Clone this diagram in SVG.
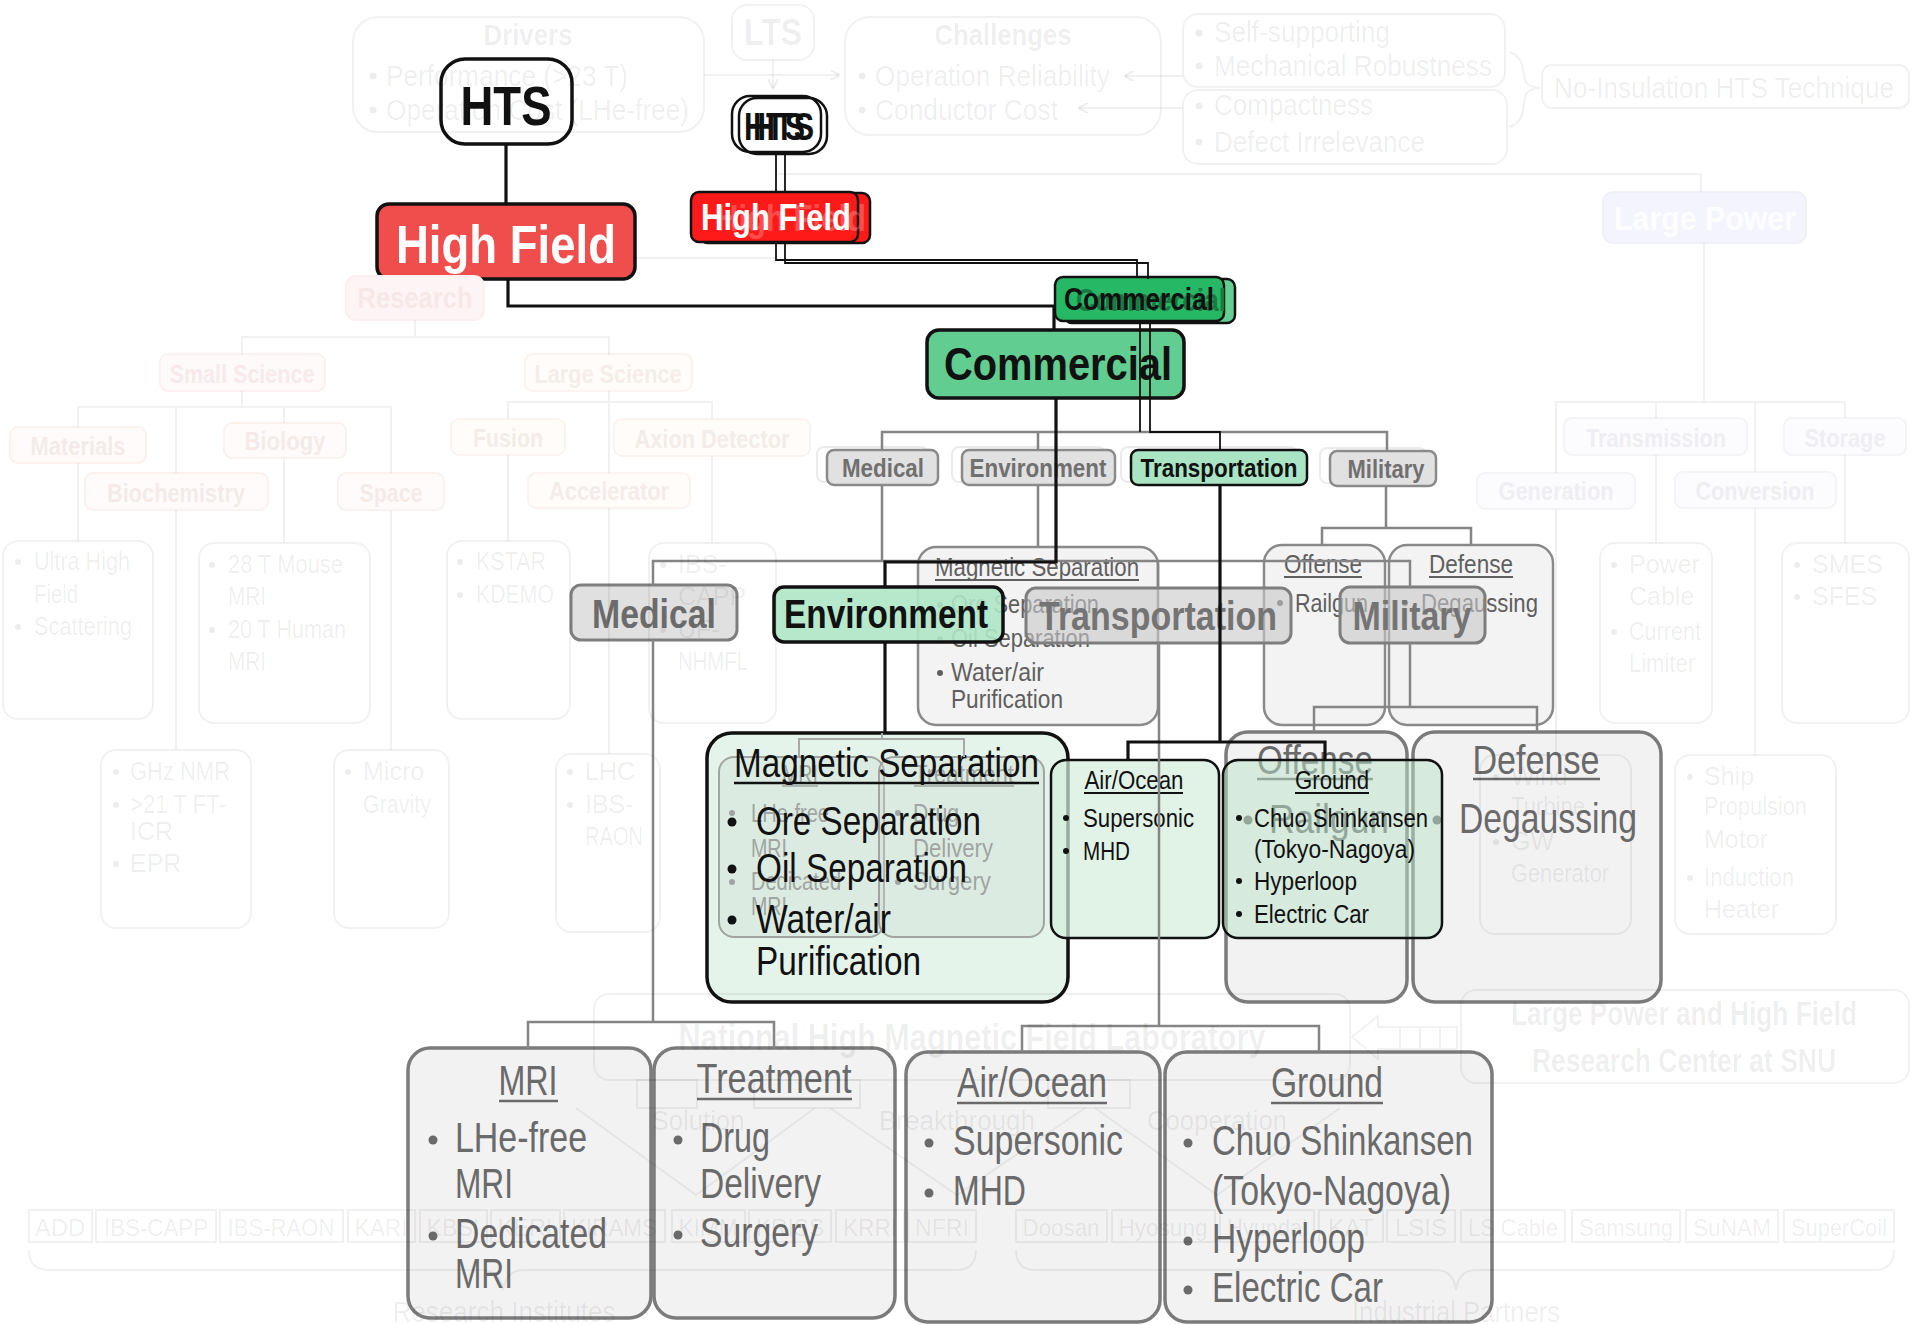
<svg xmlns="http://www.w3.org/2000/svg" width="1920" height="1325" viewBox="0 0 1920 1325">
<defs>
<style>
text{font-family:"Liberation Sans",Arial,sans-serif}
.b{font-weight:bold}
.bgbox{fill:none;stroke:#000;stroke-opacity:.055;stroke-width:2}
.bgt{fill:#000;fill-opacity:.07}
.bgl{fill:none;stroke:#000;stroke-opacity:.055;stroke-width:2}
.bgc{fill:#000;fill-opacity:.07}
.gl{fill:none;stroke:#858585;stroke-width:2.5}
.gll{fill:none;stroke:#a8a8a8;stroke-width:2}
.kl{fill:none;stroke:#111;stroke-width:3.2}
.kt{fill:none;stroke:#111;stroke-width:1.8}
.gbig{fill:#f2f2f2;stroke:#7b7b7b;stroke-width:3.5}
.gtxt{fill:#6a6a6a}
.gmed{fill:#f2f2f2;fill-opacity:.92;stroke:#8a8a8a;stroke-width:2.5}
.mtxt{fill:#5f5f5f}
.gsm{fill:#e1e1e1;stroke:#8a8a8a;stroke-width:2.5}
.ghost{fill:none;stroke:#000;stroke-opacity:.08;stroke-width:2}
.k{fill:#111}
</style>
<marker id="bga" markerWidth="10" markerHeight="10" refX="9" refY="5" orient="auto" markerUnits="userSpaceOnUse">
<path d="M0,0 L10,5 L0,10" fill="none" stroke="#000" stroke-opacity=".07" stroke-width="2"/>
</marker>
</defs>
<rect width="1920" height="1325" fill="#ffffff"/>

<!-- ================= gray nodes ================= -->
<g id="ghost-small-row">
<rect x="817" y="447" width="111" height="35" rx="7" class="ghost"/>
<rect x="952" y="447" width="153" height="35" rx="7" class="ghost"/>
<rect x="1121" y="447" width="176" height="35" rx="7" class="ghost"/>
<rect x="1320" y="448" width="106" height="35" rx="7" class="ghost"/>
</g>
<g id="node-medical-small">
<rect x="827" y="450" width="111" height="35" rx="7" class="gsm"/>
<text x="883" y="477" text-anchor="middle" class="b" fill="#707070" font-size="26" textLength="82" lengthAdjust="spacingAndGlyphs">Medical</text>
</g>
<g id="node-environment-small">
<rect x="962" y="450" width="153" height="35" rx="7" class="gsm"/>
<text x="1038" y="477" text-anchor="middle" class="b" fill="#707070" font-size="26" textLength="137" lengthAdjust="spacingAndGlyphs">Environment</text>
</g>
<g id="node-transportation-small">
<rect x="1131" y="450" width="176" height="35" rx="7" fill="#a9e5c4" stroke="#111" stroke-width="2.5"/>
<text x="1219" y="477" text-anchor="middle" class="b k" font-size="26" textLength="157" lengthAdjust="spacingAndGlyphs">Transportation</text>
</g>
<g id="node-military-small">
<rect x="1330" y="451" width="106" height="35" rx="7" class="gsm"/>
<text x="1386" y="478" text-anchor="middle" class="b" fill="#707070" font-size="26" textLength="77" lengthAdjust="spacingAndGlyphs">Military</text>
</g>

<g id="node-magsep-medium">
<rect x="918" y="547" width="240" height="178" rx="18" class="gmed"/>
<text x="935" y="576" class="mtxt" font-size="25" textLength="204" lengthAdjust="spacingAndGlyphs">Magnetic Separation</text>
<line x1="935" y1="580" x2="1139" y2="580" stroke="#5f5f5f" stroke-width="1.8"/>
<circle cx="940" cy="605" r="3" fill="#5f5f5f"/><circle cx="940" cy="639" r="3" fill="#5f5f5f"/><circle cx="940" cy="673" r="3" fill="#5f5f5f"/>
<text x="951" y="613" class="mtxt" font-size="25" textLength="148" lengthAdjust="spacingAndGlyphs">Ore Separation</text>
<text x="951" y="647" class="mtxt" font-size="25" textLength="139" lengthAdjust="spacingAndGlyphs">Oil Separation</text>
<text x="951" y="681" class="mtxt" font-size="25" textLength="93" lengthAdjust="spacingAndGlyphs">Water/air</text>
<text x="951" y="708" class="mtxt" font-size="25" textLength="112" lengthAdjust="spacingAndGlyphs">Purification</text>
</g>
<g id="node-offense-medium">
<rect x="1264" y="545" width="121" height="180" rx="18" class="gmed"/>
<text x="1323" y="573" text-anchor="middle" class="mtxt" font-size="26" textLength="78" lengthAdjust="spacingAndGlyphs">Offense</text>
<line x1="1284" y1="577" x2="1362" y2="577" stroke="#5f5f5f" stroke-width="1.8"/>
<circle cx="1280" cy="603" r="3" fill="#5f5f5f"/>
<text x="1295" y="612" class="mtxt" font-size="26" textLength="73" lengthAdjust="spacingAndGlyphs">Railgun</text>
</g>
<g id="node-defense-medium">
<rect x="1389" y="545" width="164" height="180" rx="18" class="gmed"/>
<text x="1471" y="573" text-anchor="middle" class="mtxt" font-size="26" textLength="84" lengthAdjust="spacingAndGlyphs">Defense</text>
<line x1="1429" y1="577" x2="1513" y2="577" stroke="#5f5f5f" stroke-width="1.8"/>
<circle cx="1405" cy="603" r="3" fill="#5f5f5f"/>
<text x="1421" y="612" class="mtxt" font-size="26" textLength="117" lengthAdjust="spacingAndGlyphs">Degaussing</text>
</g>

<g id="node-medical-big">
<rect x="571" y="585" width="166" height="55" rx="10" fill="#e0e0e0" stroke="#7e7e7e" stroke-width="3"/>
<text x="654" y="628" text-anchor="middle" class="b" fill="#6b6b6b" font-size="40" textLength="124" lengthAdjust="spacingAndGlyphs">Medical</text>
</g>
<g id="node-environment-big">
<rect x="774" y="587" width="229" height="55" rx="10" fill="#aee6c6" fill-opacity="0.9" stroke="#111" stroke-width="3.5"/>
<text x="886" y="628" text-anchor="middle" class="b k" font-size="40" textLength="204" lengthAdjust="spacingAndGlyphs">Environment</text>
</g>
<g id="node-transportation-big">
<rect x="1026" y="588" width="265" height="55" rx="10" fill="#c8c8c8" fill-opacity="0.6" stroke="#7e7e7e" stroke-width="3"/>
<text x="1158" y="630" text-anchor="middle" class="b" fill="#747474" font-size="40" textLength="238" lengthAdjust="spacingAndGlyphs">Transportation</text>
</g>
<g id="node-military-big">
<rect x="1340" y="587" width="145" height="56" rx="10" fill="#c8c8c8" fill-opacity="0.6" stroke="#7e7e7e" stroke-width="3"/>
<text x="1412" y="630" text-anchor="middle" class="b" fill="#747474" font-size="40" textLength="119" lengthAdjust="spacingAndGlyphs">Military</text>
</g>

<g id="node-offense-big">
<rect x="1226" y="732" width="181" height="270" rx="22" class="gbig"/>
<text x="1315" y="774" text-anchor="middle" class="gtxt" font-size="40" textLength="116" lengthAdjust="spacingAndGlyphs">Offense</text>
<line x1="1257" y1="779" x2="1373" y2="779" stroke="#6a6a6a" stroke-width="2.5"/>
<circle cx="1248" cy="820" r="4.5" fill="#6a6a6a"/>
<text x="1269" y="833" class="gtxt" font-size="40" textLength="120" lengthAdjust="spacingAndGlyphs">Railgun</text>
</g>
<g id="node-defense-big">
<rect x="1413" y="732" width="248" height="270" rx="22" class="gbig"/>
<text x="1536" y="774" text-anchor="middle" class="gtxt" font-size="40" textLength="127" lengthAdjust="spacingAndGlyphs">Defense</text>
<line x1="1473" y1="779" x2="1600" y2="779" stroke="#6a6a6a" stroke-width="2.5"/>
<circle cx="1437" cy="820" r="4.5" fill="#6a6a6a"/>
<text x="1459" y="833" class="gtxt" font-size="42" textLength="178" lengthAdjust="spacingAndGlyphs">Degaussing</text>
</g>

<g id="node-mri">
<rect x="408" y="1048" width="243" height="270" rx="22" class="gbig"/>
<text x="528" y="1095" text-anchor="middle" class="gtxt" font-size="42" textLength="59" lengthAdjust="spacingAndGlyphs">MRI</text>
<line x1="499" y1="1101" x2="558" y2="1101" stroke="#6a6a6a" stroke-width="2.5"/>
<circle cx="433" cy="1140" r="4.5" fill="#6a6a6a"/><circle cx="433" cy="1236" r="4.5" fill="#6a6a6a"/>
<text x="455" y="1152" class="gtxt" font-size="42" textLength="132" lengthAdjust="spacingAndGlyphs">LHe-free</text>
<text x="455" y="1198" class="gtxt" font-size="42" textLength="58" lengthAdjust="spacingAndGlyphs">MRI</text>
<text x="455" y="1248" class="gtxt" font-size="42" textLength="152" lengthAdjust="spacingAndGlyphs">Dedicated</text>
<text x="455" y="1288" class="gtxt" font-size="42" textLength="58" lengthAdjust="spacingAndGlyphs">MRI</text>
</g>
<g id="node-treatment">
<rect x="654" y="1048" width="241" height="270" rx="22" class="gbig"/>
<text x="774" y="1093" text-anchor="middle" class="gtxt" font-size="42" textLength="155" lengthAdjust="spacingAndGlyphs">Treatment</text>
<line x1="697" y1="1099" x2="852" y2="1099" stroke="#6a6a6a" stroke-width="2.5"/>
<circle cx="678" cy="1140" r="4.5" fill="#6a6a6a"/><circle cx="678" cy="1235" r="4.5" fill="#6a6a6a"/>
<text x="700" y="1152" class="gtxt" font-size="42" textLength="70" lengthAdjust="spacingAndGlyphs">Drug</text>
<text x="700" y="1198" class="gtxt" font-size="42" textLength="121" lengthAdjust="spacingAndGlyphs">Delivery</text>
<text x="700" y="1247" class="gtxt" font-size="42" textLength="118" lengthAdjust="spacingAndGlyphs">Surgery</text>
</g>
<g id="node-airocean">
<rect x="906" y="1052" width="254" height="270" rx="22" class="gbig"/>
<text x="1032" y="1097" text-anchor="middle" class="gtxt" font-size="42" textLength="150" lengthAdjust="spacingAndGlyphs">Air/Ocean</text>
<line x1="957" y1="1103" x2="1107" y2="1103" stroke="#6a6a6a" stroke-width="2.5"/>
<circle cx="929" cy="1143" r="4.5" fill="#6a6a6a"/><circle cx="929" cy="1193" r="4.5" fill="#6a6a6a"/>
<text x="953" y="1155" class="gtxt" font-size="42" textLength="170" lengthAdjust="spacingAndGlyphs">Supersonic</text>
<text x="953" y="1205" class="gtxt" font-size="42" textLength="73" lengthAdjust="spacingAndGlyphs">MHD</text>
</g>
<g id="node-ground">
<rect x="1165" y="1052" width="327" height="270" rx="22" class="gbig"/>
<text x="1327" y="1097" text-anchor="middle" class="gtxt" font-size="42" textLength="112" lengthAdjust="spacingAndGlyphs">Ground</text>
<line x1="1271" y1="1103" x2="1383" y2="1103" stroke="#6a6a6a" stroke-width="2.5"/>
<circle cx="1188" cy="1143" r="4.5" fill="#6a6a6a"/><circle cx="1188" cy="1241" r="4.5" fill="#6a6a6a"/><circle cx="1188" cy="1290" r="4.5" fill="#6a6a6a"/>
<text x="1212" y="1155" class="gtxt" font-size="42" textLength="261" lengthAdjust="spacingAndGlyphs">Chuo Shinkansen</text>
<text x="1212" y="1205" class="gtxt" font-size="42" textLength="239" lengthAdjust="spacingAndGlyphs">(Tokyo-Nagoya)</text>
<text x="1212" y="1253" class="gtxt" font-size="42" textLength="153" lengthAdjust="spacingAndGlyphs">Hyperloop</text>
<text x="1212" y="1302" class="gtxt" font-size="42" textLength="171" lengthAdjust="spacingAndGlyphs">Electric Car</text>
</g>

<!-- ================= green foreground nodes ================= -->
<g id="node-magsep-big">
<rect x="707" y="733" width="361" height="269" rx="25" fill="#e4f4ea" stroke="#111" stroke-width="3.5"/>
<g id="ghost-mri-treatment" opacity="0.75">
<rect x="719" y="757" width="165" height="180" rx="15" fill="#c8d4cc" fill-opacity="0.35" stroke="#8a8a8a" stroke-width="2"/>
<rect x="879" y="757" width="165" height="180" rx="15" fill="#c8d4cc" fill-opacity="0.35" stroke="#8a8a8a" stroke-width="2"/>
<g fill="#8a8a8a" font-size="25">
<text x="800" y="783" text-anchor="middle" textLength="36" lengthAdjust="spacingAndGlyphs">MRI</text>
<line x1="782" y1="786" x2="818" y2="786" stroke="#8a8a8a" stroke-width="1.5"/>
<circle cx="732" cy="813" r="3"/><circle cx="732" cy="882" r="3"/>
<text x="751" y="822" textLength="78" lengthAdjust="spacingAndGlyphs">LHe-free</text>
<text x="751" y="857" textLength="36" lengthAdjust="spacingAndGlyphs">MRI</text>
<text x="751" y="890" textLength="90" lengthAdjust="spacingAndGlyphs">Dedicated</text>
<text x="751" y="915" textLength="36" lengthAdjust="spacingAndGlyphs">MRI</text>
<text x="964" y="783" text-anchor="middle" textLength="100" lengthAdjust="spacingAndGlyphs">Treatment</text>
<line x1="914" y1="786" x2="1014" y2="786" stroke="#8a8a8a" stroke-width="1.5"/>
<circle cx="898" cy="813" r="3"/><circle cx="898" cy="882" r="3"/>
<text x="913" y="822" textLength="46" lengthAdjust="spacingAndGlyphs">Drug</text>
<text x="913" y="857" textLength="80" lengthAdjust="spacingAndGlyphs">Delivery</text>
<text x="913" y="890" textLength="78" lengthAdjust="spacingAndGlyphs">Surgery</text>
</g>
</g>
<text x="734" y="777" class="k" font-size="40" textLength="305" lengthAdjust="spacingAndGlyphs">Magnetic Separation</text>
<line x1="734" y1="783" x2="1039" y2="783" stroke="#111" stroke-width="2.5"/>
<circle cx="732" cy="822" r="4.5" fill="#111"/><circle cx="732" cy="869" r="4.5" fill="#111"/><circle cx="732" cy="920" r="4.5" fill="#111"/>
<text x="756" y="835" class="k" font-size="40" textLength="225" lengthAdjust="spacingAndGlyphs">Ore Separation</text>
<text x="756" y="882" class="k" font-size="40" textLength="211" lengthAdjust="spacingAndGlyphs">Oil Separation</text>
<text x="756" y="933" class="k" font-size="40" textLength="135" lengthAdjust="spacingAndGlyphs">Water/air</text>
<text x="756" y="975" class="k" font-size="40" textLength="165" lengthAdjust="spacingAndGlyphs">Purification</text>
</g>
<g id="node-airocean-medium">
<rect x="1051" y="760" width="168" height="178" rx="15" fill="#d4eedd" fill-opacity="0.7" stroke="#111" stroke-width="2.5"/>
<text x="1134" y="789" text-anchor="middle" class="k" font-size="26" textLength="99" lengthAdjust="spacingAndGlyphs">Air/Ocean</text>
<line x1="1084" y1="793" x2="1183" y2="793" stroke="#111" stroke-width="1.8"/>
<circle cx="1066" cy="818" r="3" fill="#111"/><circle cx="1066" cy="851" r="3" fill="#111"/>
<text x="1083" y="827" class="k" font-size="26" textLength="111" lengthAdjust="spacingAndGlyphs">Supersonic</text>
<text x="1083" y="860" class="k" font-size="26" textLength="47" lengthAdjust="spacingAndGlyphs">MHD</text>
</g>
<g id="node-ground-medium">
<rect x="1223" y="760" width="219" height="178" rx="15" fill="#b9e2c8" fill-opacity="0.5" stroke="#111" stroke-width="2.5"/>
<text x="1332" y="789" text-anchor="middle" class="k" font-size="26" textLength="74" lengthAdjust="spacingAndGlyphs">Ground</text>
<line x1="1295" y1="793" x2="1369" y2="793" stroke="#111" stroke-width="1.8"/>
<circle cx="1239" cy="818" r="3" fill="#111"/><circle cx="1239" cy="881" r="3" fill="#111"/><circle cx="1239" cy="914" r="3" fill="#111"/>
<text x="1254" y="827" class="k" font-size="26" textLength="174" lengthAdjust="spacingAndGlyphs">Chuo Shinkansen</text>
<text x="1254" y="858" class="k" font-size="26" textLength="161" lengthAdjust="spacingAndGlyphs">(Tokyo-Nagoya)</text>
<text x="1254" y="890" class="k" font-size="26" textLength="103" lengthAdjust="spacingAndGlyphs">Hyperloop</text>
<text x="1254" y="923" class="k" font-size="26" textLength="115" lengthAdjust="spacingAndGlyphs">Electric Car</text>
</g>

<!-- ================= top nodes ================= -->
<g id="node-hts-big">
<rect x="441" y="59" width="131" height="85" rx="24" fill="#ffffff" stroke="#111" stroke-width="3.5"/>
<text x="506" y="125" text-anchor="middle" class="b k" font-size="55" textLength="91" lengthAdjust="spacingAndGlyphs">HTS</text>
</g>
<g id="node-highfield-big">
<rect x="377" y="204" width="258" height="75" rx="12" fill="#f04d4d" stroke="#111" stroke-width="3.5"/>
<text x="506" y="263" text-anchor="middle" class="b" fill="#ffffff" font-size="54" textLength="220" lengthAdjust="spacingAndGlyphs">High Field</text>
</g>
<g id="node-hts-small">
<rect x="739" y="98" width="88" height="56" rx="18" fill="#ffffff" stroke="#111" stroke-width="2.5"/>
<rect x="732" y="96" width="89" height="56" rx="18" fill="none" stroke="#111" stroke-width="2.5"/>
<text x="744" y="140" class="b k" font-size="38" textLength="61" lengthAdjust="spacingAndGlyphs">HTS</text>
<text x="753" y="140" class="b k" font-size="38" textLength="61" lengthAdjust="spacingAndGlyphs">HTS</text>
</g>
<g id="node-highfield-small">
<rect x="700" y="193" width="170" height="50" rx="8" fill="#ff1a1a" stroke="#111" stroke-width="2.5"/>
<rect x="691" y="192" width="167" height="50" rx="8" fill="#ff1a1a" stroke="#111" stroke-width="2.5"/>
<text x="716" y="231" class="b" fill="#ffd0d0" fill-opacity="0.3" font-size="36" textLength="150" lengthAdjust="spacingAndGlyphs">High Field</text>
<text x="701" y="230" class="b" fill="#ffffff" font-size="36" textLength="150" lengthAdjust="spacingAndGlyphs">High Field</text>
</g>
<g id="node-commercial-small">
<rect x="1064" y="279" width="171" height="44" rx="8" fill="#63cf92" stroke="#111" stroke-width="2.5"/>
<rect x="1055" y="277" width="169" height="44" rx="8" fill="#27b866" stroke="#111" stroke-width="2.5"/>
<text x="1076" y="311" class="b" fill="#1a7a44" font-size="32" textLength="150" lengthAdjust="spacingAndGlyphs">Commercial</text>
<text x="1064" y="310" class="b k" font-size="32" textLength="150" lengthAdjust="spacingAndGlyphs">Commercial</text>
</g>
<g id="node-commercial-big">
<rect x="927" y="330" width="257" height="68" rx="12" fill="#62cd90" stroke="#111" stroke-width="3.5"/>
<text x="1058" y="380" text-anchor="middle" class="b k" font-size="46" textLength="228" lengthAdjust="spacingAndGlyphs">Commercial</text>
</g>

<!-- ================= connectors ================= -->
<g id="connectors">
<g id="gray-connectors">
<path d="M882 450 V432 H1387 V451 M1038 432 V450" class="gl"/>
<path d="M882 486 V561 M1038 486 V547" class="gl"/>
<path d="M653 585 V561 H1410 V587 M1158 561 V588" class="gl"/>
<path d="M653 640 V1022 M528 1048 V1022 H774 V1048" class="gl"/>
<path d="M1159 643 V1026 M1022 1052 V1026 H1319 V1052" class="gl"/>
<path d="M1410 643 V707 M1314 732 V707 H1537 V732" class="gl"/>
<path d="M1386 486 V528 M1322 545 V528 H1471 V545" class="gl"/>
<path d="M882 733 V739 M799 757 V739 H964 V757" class="gll"/>
</g>
<g id="black-connectors">
<path d="M506 144 V204" class="kl"/>
<path d="M508 279 V306 H1054 V330" class="kl"/>
<path d="M1056 398 V562 H885 V587" class="kl"/>
<path d="M885 642 V733" class="kl"/>
<path d="M1220 486 V742 M1128 760 V742 H1325 V760" class="kl"/>
<path d="M776 152 V192 M785 154 V193" class="kt"/>
<path d="M776 242 V260 H1137 V277" class="kt"/>
<path d="M785 243 V263 H1148 V279" class="kt"/>
<path d="M1140 321 V432" class="kt"/>
<path d="M1150 323 V432 H1220 V450" class="kt"/>
</g>
</g>

<!-- ================= faded overlay layer (translucent) ================= -->
<g id="background-layer">
<g id="bg-drivers">
<rect x="353" y="17" width="351" height="115" rx="25" class="bgbox"/>
<text x="528" y="45" text-anchor="middle" class="b bgt" font-size="30" textLength="89" lengthAdjust="spacingAndGlyphs">Drivers</text>
<circle cx="373" cy="76" r="3.5" class="bgc"/><circle cx="373" cy="110" r="3.5" class="bgc"/>
<text x="386" y="86" class="bgt" font-size="30" textLength="242" lengthAdjust="spacingAndGlyphs">Performance (&gt;23 T)</text>
<text x="386" y="120" class="bgt" font-size="30" textLength="303" lengthAdjust="spacingAndGlyphs">Operation Cost (LHe-free)</text>
</g>
<g id="bg-lts">
<rect x="732" y="5" width="82" height="55" rx="15" class="bgbox"/>
<text x="773" y="45" text-anchor="middle" class="b bgt" font-size="36" textLength="58" lengthAdjust="spacingAndGlyphs">LTS</text>
</g>
<g id="bg-challenges">
<rect x="845" y="17" width="316" height="118" rx="25" class="bgbox"/>
<text x="1003" y="45" text-anchor="middle" class="b bgt" font-size="30" textLength="137" lengthAdjust="spacingAndGlyphs">Challenges</text>
<circle cx="862" cy="76" r="3.5" class="bgc"/><circle cx="862" cy="110" r="3.5" class="bgc"/>
<text x="875" y="86" class="bgt" font-size="30" textLength="235" lengthAdjust="spacingAndGlyphs">Operation Reliability</text>
<text x="875" y="120" class="bgt" font-size="30" textLength="183" lengthAdjust="spacingAndGlyphs">Conductor Cost</text>
</g>
<g id="bg-self">
<rect x="1183" y="14" width="322" height="73" rx="15" class="bgbox"/>
<circle cx="1199" cy="33" r="3.5" class="bgc"/><circle cx="1199" cy="66" r="3.5" class="bgc"/>
<text x="1214" y="42" class="bgt" font-size="30" textLength="176" lengthAdjust="spacingAndGlyphs">Self-supporting</text>
<text x="1214" y="76" class="bgt" font-size="30" textLength="278" lengthAdjust="spacingAndGlyphs">Mechanical Robustness</text>
</g>
<g id="bg-compact">
<rect x="1183" y="90" width="324" height="74" rx="15" class="bgbox"/>
<circle cx="1199" cy="106" r="3.5" class="bgc"/><circle cx="1199" cy="142" r="3.5" class="bgc"/>
<text x="1214" y="115" class="bgt" font-size="30" textLength="159" lengthAdjust="spacingAndGlyphs">Compactness</text>
<text x="1214" y="152" class="bgt" font-size="30" textLength="211" lengthAdjust="spacingAndGlyphs">Defect Irrelevance</text>
</g>
<g id="bg-noinsulation">
<rect x="1542" y="65" width="367" height="43" rx="10" class="bgbox"/>
<text x="1554" y="98" class="bgt" font-size="30" textLength="340" lengthAdjust="spacingAndGlyphs">No-Insulation HTS Technique</text>
</g>
<g id="bg-largepower">
<rect x="1603" y="192" width="203" height="51" rx="10" fill="#f4f4fc" stroke="#f0f0f9" stroke-width="2"/>
<text x="1705" y="230" text-anchor="middle" class="b" fill="#fdfdff" font-size="34" textLength="182" lengthAdjust="spacingAndGlyphs">Large Power</text>
</g>
<g id="bg-research">
<rect x="346" y="276" width="138" height="44" rx="10" fill="#fdf5f5" stroke="#fbefef" stroke-width="2"/>
<text x="415" y="308" text-anchor="middle" class="b" fill="#f7e8e8" font-size="30" textLength="115" lengthAdjust="spacingAndGlyphs">Research</text>
</g>
<g id="bg-categories" font-size="26">
<rect x="160" y="354" width="165" height="37" rx="8" fill="#fffafa" stroke="#fbf1f1" stroke-width="2"/>
<text x="242" y="383" text-anchor="middle" class="b" fill="#f6eaea" textLength="145" lengthAdjust="spacingAndGlyphs">Small Science</text>
<rect x="525" y="354" width="167" height="37" rx="8" fill="#fffcfa" stroke="#fbf3ef" stroke-width="2"/>
<text x="608" y="383" text-anchor="middle" class="b" fill="#f6ede8" textLength="147" lengthAdjust="spacingAndGlyphs">Large Science</text>
<rect x="10" y="427" width="136" height="36" rx="8" fill="#fffbfa" stroke="#fbf1ee" stroke-width="2"/>
<text x="78" y="455" text-anchor="middle" class="b" fill="#f4ebe8" textLength="95" lengthAdjust="spacingAndGlyphs">Materials</text>
<rect x="224" y="423" width="122" height="35" rx="8" fill="#fffbfa" stroke="#fbf1ee" stroke-width="2"/>
<text x="285" y="450" text-anchor="middle" class="b" fill="#f4ebe8" textLength="81" lengthAdjust="spacingAndGlyphs">Biology</text>
<rect x="85" y="473" width="183" height="37" rx="8" fill="#fffbfa" stroke="#fbf1ee" stroke-width="2"/>
<text x="176" y="502" text-anchor="middle" class="b" fill="#f4ebe8" textLength="138" lengthAdjust="spacingAndGlyphs">Biochemistry</text>
<rect x="338" y="473" width="106" height="37" rx="8" fill="#fffbfa" stroke="#fbf1ee" stroke-width="2"/>
<text x="391" y="502" text-anchor="middle" class="b" fill="#f4ebe8" textLength="63" lengthAdjust="spacingAndGlyphs">Space</text>
<rect x="451" y="419" width="114" height="36" rx="8" fill="#fffcfa" stroke="#fbf3ef" stroke-width="2"/>
<text x="508" y="447" text-anchor="middle" class="b" fill="#f4ece8" textLength="70" lengthAdjust="spacingAndGlyphs">Fusion</text>
<rect x="614" y="419" width="196" height="37" rx="8" fill="#fffcfa" stroke="#fbf3ef" stroke-width="2"/>
<text x="712" y="448" text-anchor="middle" class="b" fill="#f4ece8" textLength="155" lengthAdjust="spacingAndGlyphs">Axion Detector</text>
<rect x="528" y="473" width="162" height="35" rx="8" fill="#fffcfa" stroke="#fbf3ef" stroke-width="2"/>
<text x="609" y="500" text-anchor="middle" class="b" fill="#f4ece8" textLength="120" lengthAdjust="spacingAndGlyphs">Accelerator</text>
<rect x="1564" y="418" width="183" height="37" rx="8" fill="#fcfcfe" stroke="#f3f3f8" stroke-width="2"/>
<text x="1656" y="447" text-anchor="middle" class="b" fill="#eeeef3" textLength="140" lengthAdjust="spacingAndGlyphs">Transmission</text>
<rect x="1784" y="418" width="122" height="37" rx="8" fill="#fcfcfe" stroke="#f3f3f8" stroke-width="2"/>
<text x="1845" y="447" text-anchor="middle" class="b" fill="#eeeef3" textLength="81" lengthAdjust="spacingAndGlyphs">Storage</text>
<rect x="1477" y="473" width="158" height="36" rx="8" fill="#fcfcfe" stroke="#f3f3f8" stroke-width="2"/>
<text x="1556" y="500" text-anchor="middle" class="b" fill="#eeeef3" textLength="115" lengthAdjust="spacingAndGlyphs">Generation</text>
<rect x="1675" y="472" width="161" height="36" rx="8" fill="#fcfcfe" stroke="#f3f3f8" stroke-width="2"/>
<text x="1755" y="500" text-anchor="middle" class="b" fill="#eeeef3" textLength="119" lengthAdjust="spacingAndGlyphs">Conversion</text>
</g>
<g id="bg-bullet-boxes" font-size="25" class="bgt">
<rect x="3" y="541" width="150" height="178" rx="15" class="bgbox"/>
<circle cx="18" cy="562" r="3" class="bgc"/><circle cx="18" cy="627" r="3" class="bgc"/>
<text x="34" y="570" textLength="96" lengthAdjust="spacingAndGlyphs">Ultra High</text><text x="34" y="603" textLength="44" lengthAdjust="spacingAndGlyphs">Field</text><text x="34" y="635" textLength="98" lengthAdjust="spacingAndGlyphs">Scattering</text>
<rect x="199" y="543" width="171" height="180" rx="15" class="bgbox"/>
<circle cx="212" cy="565" r="3" class="bgc"/><circle cx="212" cy="630" r="3" class="bgc"/>
<text x="228" y="573" textLength="115" lengthAdjust="spacingAndGlyphs">28 T Mouse</text><text x="228" y="605" textLength="38" lengthAdjust="spacingAndGlyphs">MRI</text><text x="228" y="638" textLength="118" lengthAdjust="spacingAndGlyphs">20 T Human</text><text x="228" y="670" textLength="38" lengthAdjust="spacingAndGlyphs">MRI</text>
<rect x="447" y="541" width="123" height="178" rx="15" class="bgbox"/>
<circle cx="460" cy="562" r="3" class="bgc"/><circle cx="460" cy="595" r="3" class="bgc"/>
<text x="476" y="570" textLength="70" lengthAdjust="spacingAndGlyphs">KSTAR</text><text x="476" y="603" textLength="78" lengthAdjust="spacingAndGlyphs">KDEMO</text>
<rect x="649" y="543" width="127" height="180" rx="15" class="bgbox"/>
<circle cx="663" cy="565" r="3" class="bgc"/><circle cx="663" cy="630" r="3" class="bgc"/>
<text x="678" y="573">IBS-</text><text x="678" y="605">CAPP</text><text x="678" y="638">UF-</text><text x="678" y="670" textLength="70" lengthAdjust="spacingAndGlyphs">NHMFL</text>
<rect x="101" y="750" width="150" height="178" rx="15" class="bgbox"/>
<circle cx="116" cy="772" r="3" class="bgc"/><circle cx="116" cy="805" r="3" class="bgc"/><circle cx="116" cy="864" r="3" class="bgc"/>
<text x="130" y="780" textLength="100" lengthAdjust="spacingAndGlyphs">GHz NMR</text><text x="130" y="813" textLength="96" lengthAdjust="spacingAndGlyphs">&gt;21 T FT-</text><text x="130" y="840">ICR</text><text x="130" y="872">EPR</text>
<rect x="334" y="750" width="115" height="178" rx="15" class="bgbox"/>
<circle cx="348" cy="772" r="3" class="bgc"/>
<text x="363" y="780">Micro</text><text x="363" y="813" textLength="68" lengthAdjust="spacingAndGlyphs">Gravity</text>
<rect x="556" y="754" width="104" height="178" rx="15" class="bgbox"/>
<circle cx="570" cy="772" r="3" class="bgc"/><circle cx="570" cy="805" r="3" class="bgc"/>
<text x="585" y="780">LHC</text><text x="585" y="813">IBS-</text><text x="585" y="845" textLength="58" lengthAdjust="spacingAndGlyphs">RAON</text>
<rect x="1600" y="543" width="112" height="180" rx="15" class="bgbox"/>
<circle cx="1614" cy="565" r="3" class="bgc"/><circle cx="1614" cy="632" r="3" class="bgc"/>
<text x="1629" y="573">Power</text><text x="1629" y="605">Cable</text><text x="1629" y="640" textLength="72" lengthAdjust="spacingAndGlyphs">Current</text><text x="1629" y="672" textLength="66" lengthAdjust="spacingAndGlyphs">Limiter</text>
<rect x="1782" y="543" width="127" height="180" rx="15" class="bgbox"/>
<circle cx="1797" cy="565" r="3" class="bgc"/><circle cx="1797" cy="597" r="3" class="bgc"/>
<text x="1812" y="573">SMES</text><text x="1812" y="605">SFES</text>
<rect x="1480" y="755" width="151" height="179" rx="15" class="bgbox"/>
<circle cx="1496" cy="777" r="3" class="bgc"/><circle cx="1496" cy="842" r="3" class="bgc"/>
<text x="1511" y="785">Wind</text><text x="1511" y="815" textLength="74" lengthAdjust="spacingAndGlyphs">Turbine</text><text x="1511" y="850">GW</text><text x="1511" y="882" textLength="98" lengthAdjust="spacingAndGlyphs">Generator</text>
<rect x="1675" y="755" width="161" height="179" rx="15" class="bgbox"/>
<circle cx="1690" cy="777" r="3" class="bgc"/><circle cx="1690" cy="878" r="3" class="bgc"/>
<text x="1704" y="785">Ship</text><text x="1704" y="815" textLength="103" lengthAdjust="spacingAndGlyphs">Propulsion</text><text x="1704" y="848">Motor</text><text x="1704" y="886" textLength="90" lengthAdjust="spacingAndGlyphs">Induction</text><text x="1704" y="918">Heater</text>
</g>
<g id="bg-labs">
<rect x="594" y="994" width="756" height="86" rx="15" class="bgbox"/>
<text x="972" y="1050" text-anchor="middle" class="b bgt" font-size="36" textLength="587" lengthAdjust="spacingAndGlyphs">National High Magnetic Field Laboratory</text>
<path d="M1352 1037 L1378 1016 V1027 H1457 V1049 H1378 V1059 Z M1400 1027 V1049 M1420 1027 V1049 M1440 1027 V1049" class="bgl"/>
<rect x="1461" y="990" width="448" height="93" rx="15" class="bgbox"/>
<text x="1684" y="1025" text-anchor="middle" class="b bgt" font-size="34" textLength="346" lengthAdjust="spacingAndGlyphs">Large Power and High Field</text>
<text x="1684" y="1072" text-anchor="middle" class="b bgt" font-size="34" textLength="304" lengthAdjust="spacingAndGlyphs">Research Center at SNU</text>
<path d="M576 1108 L696 1195 L815 1108 M830 1108 L957 1195 L1085 1108 M1095 1108 L1217 1195 L1340 1108" class="bgl"/>
<rect x="637" y="1080" width="60" height="28" class="bgbox"/>
<rect x="754" y="1080" width="106" height="28" class="bgbox"/>
<rect x="1048" y="1080" width="82" height="28" class="bgbox"/>
<text x="698" y="1130" text-anchor="middle" class="bgt" font-size="28" textLength="93" lengthAdjust="spacingAndGlyphs">Solution</text>
<text x="957" y="1130" text-anchor="middle" class="bgt" font-size="28" textLength="156" lengthAdjust="spacingAndGlyphs">Breakthrough</text>
<text x="1217" y="1130" text-anchor="middle" class="bgt" font-size="28" textLength="140" lengthAdjust="spacingAndGlyphs">Cooperation</text>
</g>
<g id="bg-partners" font-size="24" class="bgt" text-anchor="middle">
<rect x="29" y="1210" width="63" height="32" class="bgbox"/><text x="60" y="1236">ADD</text>
<rect x="96" y="1210" width="120" height="32" class="bgbox"/><text x="156" y="1236" textLength="104" lengthAdjust="spacingAndGlyphs">IBS-CAPP</text>
<rect x="220" y="1210" width="123" height="32" class="bgbox"/><text x="281" y="1236" textLength="107" lengthAdjust="spacingAndGlyphs">IBS-RAON</text>
<rect x="348" y="1210" width="67" height="32" class="bgbox"/><text x="381" y="1236" textLength="53" lengthAdjust="spacingAndGlyphs">KARI</text>
<rect x="420" y="1210" width="67" height="32" class="bgbox"/><text x="453" y="1236" textLength="53" lengthAdjust="spacingAndGlyphs">KBSI</text>
<rect x="491" y="1210" width="69" height="32" class="bgbox"/><text x="525" y="1236" textLength="55" lengthAdjust="spacingAndGlyphs">KERI</text>
<rect x="564" y="1210" width="101" height="32" class="bgbox"/><text x="614" y="1236" textLength="86" lengthAdjust="spacingAndGlyphs">KIRAMS</text>
<rect x="672" y="1210" width="73" height="32" class="bgbox"/><text x="708" y="1236" textLength="59" lengthAdjust="spacingAndGlyphs">KIMM</text>
<rect x="749" y="1210" width="82" height="32" class="bgbox"/><text x="790" y="1236" textLength="68" lengthAdjust="spacingAndGlyphs">KRISS</text>
<rect x="836" y="1210" width="68" height="32" class="bgbox"/><text x="870" y="1236" textLength="54" lengthAdjust="spacingAndGlyphs">KRRI</text>
<rect x="908" y="1210" width="68" height="32" class="bgbox"/><text x="942" y="1236" textLength="54" lengthAdjust="spacingAndGlyphs">NFRI</text>
<rect x="1016" y="1210" width="91" height="32" class="bgbox"/><text x="1061" y="1236" textLength="77" lengthAdjust="spacingAndGlyphs">Doosan</text>
<rect x="1112" y="1210" width="103" height="32" class="bgbox"/><text x="1163" y="1236" textLength="89" lengthAdjust="spacingAndGlyphs">Hyosung</text>
<rect x="1220" y="1210" width="94" height="32" class="bgbox"/><text x="1267" y="1236" textLength="80" lengthAdjust="spacingAndGlyphs">Hyundai</text>
<rect x="1319" y="1210" width="64" height="32" class="bgbox"/><text x="1351" y="1236" textLength="46" lengthAdjust="spacingAndGlyphs">KAT</text>
<rect x="1387" y="1210" width="68" height="32" class="bgbox"/><text x="1421" y="1236" textLength="52" lengthAdjust="spacingAndGlyphs">LSIS</text>
<rect x="1461" y="1210" width="104" height="32" class="bgbox"/><text x="1513" y="1236" textLength="90" lengthAdjust="spacingAndGlyphs">LS Cable</text>
<rect x="1572" y="1210" width="108" height="32" class="bgbox"/><text x="1626" y="1236" textLength="94" lengthAdjust="spacingAndGlyphs">Samsung</text>
<rect x="1686" y="1210" width="92" height="32" class="bgbox"/><text x="1732" y="1236" textLength="78" lengthAdjust="spacingAndGlyphs">SuNAM</text>
<rect x="1784" y="1210" width="110" height="32" class="bgbox"/><text x="1839" y="1236" textLength="96" lengthAdjust="spacingAndGlyphs">SuperCoil</text>
<path d="M29 1250 Q29 1270 49 1270 H482 Q500 1270 503 1290 Q506 1270 524 1270 H956 Q976 1270 976 1250" class="bgl"/>
<path d="M1016 1250 Q1016 1270 1036 1270 H1436 Q1453 1270 1456 1290 Q1459 1270 1476 1270 H1874 Q1894 1270 1894 1250" class="bgl"/>
<text x="504" y="1322" font-size="30" textLength="223" lengthAdjust="spacingAndGlyphs">Research Institutes</text>
<text x="1456" y="1322" font-size="30" textLength="208" lengthAdjust="spacingAndGlyphs">Industrial Partners</text>
</g>
<g id="bg-connectors">
<path d="M704 75 H839" class="bgl" marker-end="url(#bga)"/>
<path d="M773 60 V88" class="bgl" marker-end="url(#bga)"/>
<path d="M1183 76 H1125" class="bgl" marker-end="url(#bga)"/>
<path d="M1183 108 H1079" class="bgl" marker-end="url(#bga)"/>
<path d="M1509 52 Q1521 55 1523 70 L1525 80 Q1527 87 1540 88 Q1527 89 1525 96 L1523 110 Q1521 124 1509 127" class="bgl"/>
<path d="M778 174 H1701 V192" class="bgl"/>
<path d="M635 258 H776" class="bgl"/>
<path d="M415 320 V337 M242 355 V337 H609 V355" class="bgl"/>
<path d="M242 391 V407 M78 427 V407 H391 V473 M176 407 V473 M284 407 V423" class="bgl"/>
<path d="M609 391 V402 M508 419 V402 H712 V419 M609 402 V473" class="bgl"/>
<path d="M78 463 V541 M176 510 V750 M284 458 V543 M391 510 V750 M508 455 V541 M609 508 V754 M712 456 V543" class="bgl"/>
<path d="M1704 243 V402 M1556 473 V402 H1845 V418 M1656 402 V418 M1755 402 V472 M1656 455 V543 M1845 455 V543 M1556 509 V755 M1755 508 V755" class="bgl"/>
</g>
</g>
</svg>
